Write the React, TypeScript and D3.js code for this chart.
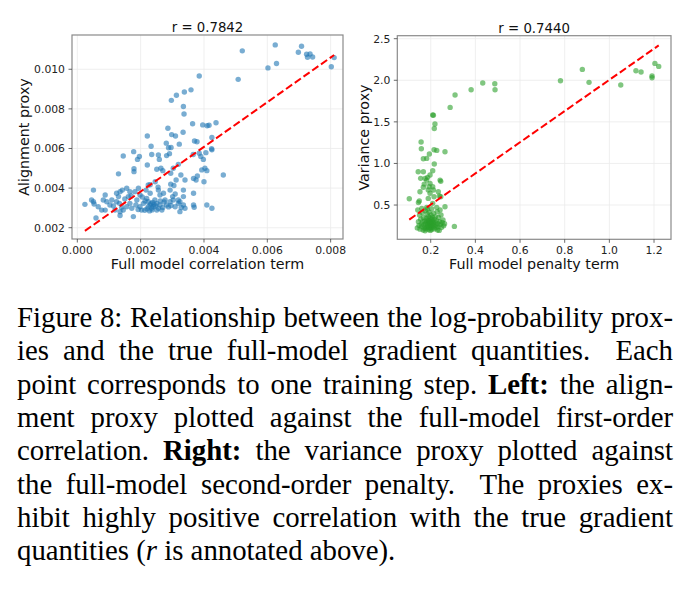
import React, { useEffect, useRef } from 'react';
import * as d3 from 'd3';

type Pt = [number, number];

// left panel: full-model correlation term vs alignment proxy
const alignPoints: Pt[] = [
  [0.00521, 0.01093], [0.00625, 0.01123], [0.00708, 0.01116], [0.00698, 0.01086], [0.00724, 0.01076],
  [0.00735, 0.01077], [0.00743, 0.01062], [0.00727, 0.01061], [0.00811, 0.01059], [0.00802, 0.01013],
  [0.00629, 0.01029], [0.00602, 0.01007], [0.00508, 0.00949], [0.00385, 0.00966], [0.00359, 0.00896],
  [0.00338, 0.00885], [0.00313, 0.00869], [0.00297, 0.00843], [0.00335, 0.00812], [0.00337, 0.00774],
  [0.00364, 0.00725], [0.00396, 0.00719], [0.00410, 0.00715], [0.00416, 0.00717], [0.00438, 0.00730],
  [0.00286, 0.00702], [0.00334, 0.00682], [0.00298, 0.00670], [0.00310, 0.00663], [0.00221, 0.00663],
  [0.00425, 0.00656], [0.00281, 0.00627], [0.00322, 0.00622], [0.00288, 0.00604], [0.00296, 0.00605],
  [0.00370, 0.00638], [0.00378, 0.00634], [0.00233, 0.00611], [0.00424, 0.00599], [0.00425, 0.00593],
  [0.00145, 0.00562], [0.00178, 0.00584], [0.00196, 0.00560], [0.00190, 0.00545], [0.00235, 0.00570],
  [0.00256, 0.00567], [0.00282, 0.00564], [0.00259, 0.00545], [0.00291, 0.00574], [0.00366, 0.00570],
  [0.00385, 0.00576], [0.00390, 0.00560], [0.00406, 0.00579], [0.00398, 0.00545], [0.00319, 0.00520],
  [0.00221, 0.00517], [0.00251, 0.00495], [0.00264, 0.00500], [0.00270, 0.00488], [0.00303, 0.00500],
  [0.00179, 0.00498], [0.00179, 0.00483], [0.00130, 0.00472], [0.00393, 0.00492], [0.00403, 0.00500],
  [0.00409, 0.00488], [0.00295, 0.00475], [0.00461, 0.00466], [0.00327, 0.00466], [0.00312, 0.00441],
  [0.00340, 0.00441], [0.00367, 0.00449], [0.00375, 0.00441], [0.00379, 0.00461], [0.00400, 0.00432],
  [0.00295, 0.00420], [0.00305, 0.00413], [0.00246, 0.00432], [0.00230, 0.00417], [0.00224, 0.00416],
  [0.00217, 0.00390], [0.00255, 0.00405], [0.00335, 0.00390],
  [0.00024, 0.00318], [0.00051, 0.00390], [0.00045, 0.00340], [0.00051, 0.00331], [0.00053, 0.00320],
  [0.00059, 0.00249], [0.00066, 0.00306], [0.00077, 0.00289], [0.00082, 0.00340], [0.00093, 0.00331],
  [0.00088, 0.00365], [0.00088, 0.00289], [0.00103, 0.00315], [0.00109, 0.00340], [0.00114, 0.00310],
  [0.00119, 0.00289], [0.00124, 0.00374], [0.00135, 0.00382], [0.00142, 0.00390], [0.00130, 0.00357],
  [0.00124, 0.00331], [0.00133, 0.00323], [0.00140, 0.00303], [0.00145, 0.00289], [0.00135, 0.00281],
  [0.00135, 0.00262], [0.00156, 0.00399], [0.00166, 0.00382], [0.00161, 0.00357], [0.00156, 0.00306],
  [0.00166, 0.00323], [0.00172, 0.00298], [0.00177, 0.00256], [0.00182, 0.00382], [0.00193, 0.00399],
  [0.00198, 0.00365], [0.00188, 0.00340], [0.00198, 0.00306], [0.00203, 0.00289], [0.00209, 0.00323],
  [0.00230, 0.00374], [0.00219, 0.00348], [0.00224, 0.00331], [0.00230, 0.00315], [0.00235, 0.00298],
  [0.00240, 0.00306], [0.00224, 0.00306], [0.00245, 0.00340], [0.00251, 0.00323], [0.00256, 0.00298],
  [0.00261, 0.00315], [0.00267, 0.00289], [0.00251, 0.00289], [0.00256, 0.00390], [0.00261, 0.00365],
  [0.00272, 0.00374], [0.00277, 0.00340], [0.00282, 0.00315], [0.00293, 0.00331], [0.00303, 0.00340],
  [0.00309, 0.00306], [0.00319, 0.00323], [0.00293, 0.00390], [0.00309, 0.00370], [0.00301, 0.00357],
  [0.00324, 0.00281], [0.00319, 0.00340], [0.00324, 0.00331], [0.00335, 0.00315], [0.00340, 0.00298],
  [0.00335, 0.00357], [0.00367, 0.00315], [0.00369, 0.00303], [0.00367, 0.00374], [0.00409, 0.00315],
  [0.00425, 0.00298], [0.00213, 0.00288], [0.00220, 0.00295], [0.00228, 0.00285], [0.00236, 0.00290],
  [0.00233, 0.00322], [0.00238, 0.00328], [0.00242, 0.00318], [0.00247, 0.00310], [0.00214, 0.00335],
  [0.00205, 0.00355], [0.00262, 0.00335], [0.00270, 0.00302], [0.00288, 0.00305], [0.00192, 0.00292],
  [0.00185, 0.00315], [0.00150, 0.00345], [0.00170, 0.00360], [0.00274, 0.00330], [0.00296, 0.00312],
  [0.00328, 0.00302],
];

// right panel: full-model penalty term vs variance proxy
const variancePoints: Pt[] = [
  [0.104, 0.575], [0.157, 1.258], [0.158, 1.177], [0.215, 1.165], [0.227, 1.157], [0.264, 1.141],
  [0.209, 1.582], [0.212, 1.580], [0.219, 1.474], [0.216, 1.420], [0.287, 1.674], [0.309, 1.823],
  [0.381, 1.887], [0.433, 1.967], [0.487, 1.959], [0.488, 1.887], [0.781, 1.995], [0.879, 2.131],
  [0.909, 1.975], [1.051, 1.943], [1.119, 2.115], [1.142, 2.099], [1.191, 2.051], [1.191, 2.031],
  [1.204, 2.203], [1.221, 2.167], [0.306, 0.243],
  [0.194, 1.113], [0.182, 1.061], [0.167, 1.057], [0.216, 0.993], [0.144, 0.900], [0.167, 0.900],
  [0.209, 0.912], [0.197, 0.861], [0.186, 0.833], [0.182, 0.800], [0.155, 0.821], [0.242, 0.800],
  [0.245, 0.785], [0.197, 0.761], [0.171, 0.752], [0.209, 0.720], [0.167, 0.713], [0.189, 0.680],
  [0.212, 0.680], [0.197, 0.641], [0.152, 0.660], [0.149, 0.548], [0.189, 0.580], [0.215, 0.600],
  [0.239, 0.608], [0.209, 0.520], [0.160, 0.460], [0.182, 0.472], [0.204, 0.456], [0.227, 0.472],
  [0.242, 0.440], [0.175, 0.820], [0.193, 0.720], [0.234, 0.660], [0.245, 0.600], [0.264, 0.480],
  [0.145, 0.530], [0.140, 0.225], [0.145, 0.300], [0.148, 0.255], [0.150, 0.380], [0.152, 0.210],
  [0.155, 0.330], [0.158, 0.270], [0.160, 0.240], [0.162, 0.410], [0.165, 0.300], [0.166, 0.200],
  [0.168, 0.350], [0.170, 0.260], [0.172, 0.225], [0.174, 0.310], [0.175, 0.430], [0.177, 0.280],
  [0.178, 0.215], [0.180, 0.340], [0.181, 0.250], [0.183, 0.300], [0.184, 0.390], [0.185, 0.230],
  [0.187, 0.270], [0.188, 0.320], [0.189, 0.205], [0.190, 0.360], [0.191, 0.290], [0.192, 0.245],
  [0.193, 0.415], [0.194, 0.310], [0.195, 0.225], [0.196, 0.275], [0.197, 0.345], [0.198, 0.260],
  [0.199, 0.300], [0.200, 0.220], [0.201, 0.380], [0.202, 0.285], [0.203, 0.240], [0.204, 0.330],
  [0.205, 0.205], [0.206, 0.300], [0.207, 0.265], [0.208, 0.355], [0.209, 0.230], [0.210, 0.310],
  [0.212, 0.280], [0.213, 0.400], [0.214, 0.250], [0.216, 0.330], [0.217, 0.215], [0.219, 0.290],
  [0.221, 0.360], [0.223, 0.260], [0.225, 0.230], [0.227, 0.310], [0.229, 0.420], [0.231, 0.275],
  [0.233, 0.240], [0.235, 0.350], [0.238, 0.195], [0.240, 0.300], [0.243, 0.265], [0.246, 0.380],
  [0.248, 0.230], [0.251, 0.290], [0.255, 0.320], [0.258, 0.250], [0.262, 0.275], [0.142, 0.440],
  [0.185, 0.450], [0.230, 0.200], [0.198, 0.195], [0.175, 0.190],
];

// least-squares fits (dashed red lines)
const alignFit = { slope: 1.128, intercept: 0.00157 };
const varianceFit = { slope: 1.875, intercept: 0.13 };

const alignXLim: [number, number] = [-0.000168, 0.00839];
const alignYLim: [number, number] = [0.00143, 0.01173];
const alignXTicks = [0, 0.002, 0.004, 0.006, 0.008];
const alignYTicks = [0.002, 0.004, 0.006, 0.008, 0.01];

const varXLim: [number, number] = [0.0504, 1.276];
const varYLim: [number, number] = [0.088, 2.536];
const varXTicks = [0.2, 0.4, 0.6, 0.8, 1.0, 1.2];
const varYTicks = [0.5, 1.0, 1.5, 2.0, 2.5];

const captionLines = [
  'Figure 8: Relationship between the log-probability prox-',
  'ies and the true full-model gradient quantities.  Each',
  'point corresponds to one training step. **Left:** the align-',
  'ment proxy plotted against the full-model first-order',
  'correlation. **Right:** the variance proxy plotted against',
  'the full-model second-order penalty.  The proxies ex-',
  'hibit highly positive correlation with the true gradient',
  'quantities (*r* is annotated above).',
];

const FONT = "'DejaVu Sans', sans-serif";
const SERIF = "'Liberation Serif', 'Times New Roman', serif";

type Box = { left: number; right: number; top: number; bottom: number };

type PanelProps = {
  box: Box;
  xLim: [number, number];
  yLim: [number, number];
  xTicks: number[];
  yTicks: number[];
  xFmt: (v: number) => string;
  yFmt: (v: number) => string;
  points: Pt[];
  fit: { slope: number; intercept: number };
  color: string;
  title: string;
  xLabel: string;
  yLabel: string;
  yLabelX: number;
};

const Panel: React.FC<PanelProps> = (p) => {
  const { box } = p;
  const x = d3.scaleLinear().domain(p.xLim).range([box.left, box.right]);
  const y = d3.scaleLinear().domain(p.yLim).range([box.bottom, box.top]);
  const [x0, x1] = d3.extent(p.points, (d) => d[0]) as [number, number];
  const fitLine = d3
    .line<number>()
    .x((v) => x(v))
    .y((v) => y(p.fit.intercept + p.fit.slope * v))([x0, x1]);
  const cx = (box.left + box.right) / 2;
  const cy = (box.top + box.bottom) / 2;

  return (
    <g fontFamily={FONT}>
      {/* grid */}
      {p.xTicks.map((t) => (
        <line key={'gx' + t} x1={x(t)} x2={x(t)} y1={box.top} y2={box.bottom} stroke="#ebebeb" strokeWidth={0.8} />
      ))}
      {p.yTicks.map((t) => (
        <line key={'gy' + t} x1={box.left} x2={box.right} y1={y(t)} y2={y(t)} stroke="#ebebeb" strokeWidth={0.8} />
      ))}

      {/* points */}
      {p.points.map((d, i) => (
        <circle key={i} cx={x(d[0])} cy={y(d[1])} r={2.7} fill={p.color} fillOpacity={0.6} />
      ))}

      <path d={fitLine ?? ''} fill="none" stroke="#ff0000" strokeWidth={2} strokeDasharray="7.5,3.2" />

      {/* frame */}
      <rect x={box.left} y={box.top} width={box.right - box.left} height={box.bottom - box.top}
        fill="none" stroke="#8a8a8a" strokeWidth={1.2} />

      {/* ticks */}
      {p.xTicks.map((t) => (
        <g key={'tx' + t}>
          <line x1={x(t)} x2={x(t)} y1={box.bottom} y2={box.bottom + 3.5} stroke="#444" strokeWidth={0.8} />
          <text x={x(t)} y={box.bottom + 14.5} textAnchor="middle" fontSize={10.8} fill="#222">
            {p.xFmt(t)}
          </text>
        </g>
      ))}
      {p.yTicks.map((t) => (
        <g key={'ty' + t}>
          <line x1={box.left - 3.5} x2={box.left} y1={y(t)} y2={y(t)} stroke="#444" strokeWidth={0.8} />
          <text x={box.left - 7} y={y(t)} dy="0.36em" textAnchor="end" fontSize={10.8} fill="#222">
            {p.yFmt(t)}
          </text>
        </g>
      ))}

      <text x={cx} y={box.top - 3} textAnchor="middle" fontSize={13.3} fill="#111">{p.title}</text>
      <text x={cx} y={box.bottom + 30} textAnchor="middle" fontSize={14.3} fill="#111">{p.xLabel}</text>
      <text transform={`translate(${p.yLabelX},${cy}) rotate(-90)`} textAnchor="middle" fontSize={14.3} fill="#111">
        {p.yLabel}
      </text>
    </g>
  );
};

const App: React.FC = () => {
  const capRef = useRef<SVGGElement | null>(null);

  // justified caption: place each word and spread the slack over the gaps
  useEffect(() => {
    if (!capRef.current) return;
    const g = d3.select(capRef.current);
    g.selectAll('*').remove();
    const fontSize = 28.8;
    const left = 17;
    const right = 673;
    const top = 327;
    const lead = 33.3;
    captionLines.forEach((line, i) => {
      const words = line.split(/ +/);
      const gaps = (line.match(/ +/g) || []).map((s) => (s.length > 1 ? 1.8 : 1));
      const nodes = words.map((w) => {
        const t = g.append('text').attr('y', top + i * lead);
        w.split(/(\*\*[^*]+\*\*|\*[^*]+\*)/)
          .filter(Boolean)
          .forEach((seg) => {
            const ts = t.append('tspan');
            if (seg.startsWith('**')) ts.attr('font-weight', 'bold').text(seg.slice(2, -2));
            else if (seg.startsWith('*')) ts.attr('font-style', 'italic').text(seg.slice(1, -1));
            else ts.text(seg);
          });
        return t;
      });
      const widths = nodes.map((n) => (n.node() as SVGTextElement).getComputedTextLength());
      const last = i === captionLines.length - 1;
      const unit = last ? fontSize * 0.25 : (right - left - d3.sum(widths)) / d3.sum(gaps);
      let xp = left;
      nodes.forEach((n, k) => {
        n.attr('x', xp);
        xp += widths[k] + (gaps[k] ?? 0) * unit;
      });
    });
  }, []);

  return (
    <div style={{ position: 'absolute', left: 0, top: 0 }}>
      <svg width={692} height={602} style={{ display: 'block', background: '#fff' }}>
        <Panel
          box={{ left: 72, right: 343, top: 35, bottom: 239 }}
          xLim={alignXLim}
          yLim={alignYLim}
          xTicks={alignXTicks}
          yTicks={alignYTicks}
          xFmt={d3.format('.3f')}
          yFmt={d3.format('.3f')}
          points={alignPoints}
          fit={alignFit}
          color="#1f77b4"
          title="r = 0.7842"
          xLabel="Full model correlation term"
          yLabel="Alignment proxy"
          yLabelX={28.5}
        />
        <Panel
          box={{ left: 397.3, right: 671, top: 35.7, bottom: 239.3 }}
          xLim={varXLim}
          yLim={varYLim}
          xTicks={varXTicks}
          yTicks={varYTicks}
          xFmt={d3.format('.1f')}
          yFmt={d3.format('.1f')}
          points={variancePoints}
          fit={varianceFit}
          color="#2ca02c"
          title="r = 0.7440"
          xLabel="Full model penalty term"
          yLabel="Variance proxy"
          yLabelX={368.5}
        />
        <g ref={capRef} fontFamily={SERIF} fontSize={28.8} fill="#000" />
      </svg>
    </div>
  );
};

export default App;
